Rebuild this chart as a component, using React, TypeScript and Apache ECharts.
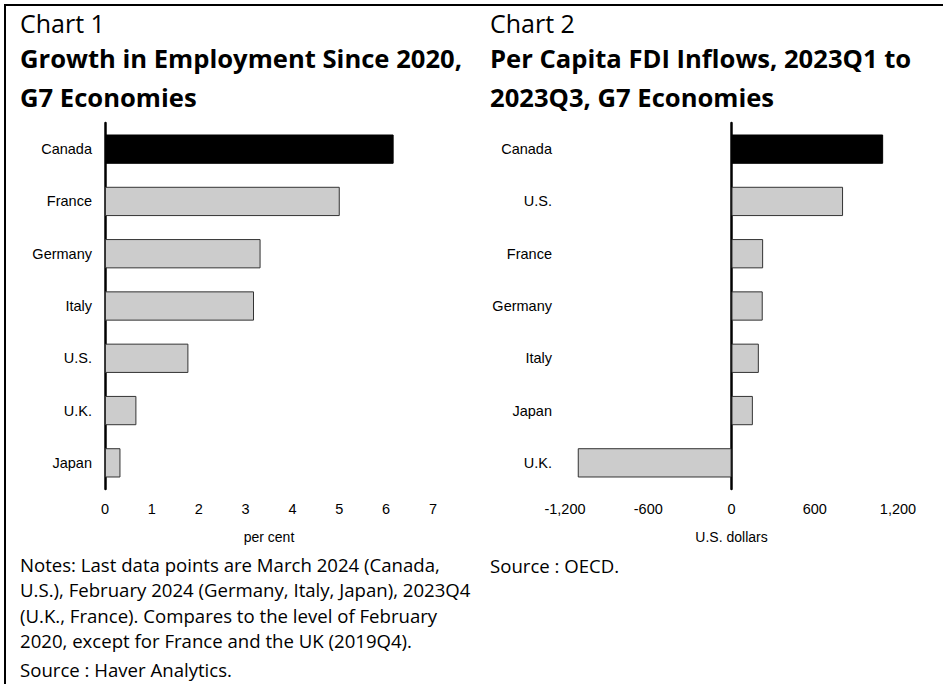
import React, { useEffect, useRef } from "react";
import * as echarts from "echarts";

const empCategories = ["Canada", "France", "Germany", "Italy", "U.S.", "U.K.", "Japan"];
const empValues = [6.16, 5.01, 3.32, 3.18, 1.78, 0.67, 0.33];

const fdiCategories = ["Canada", "U.S.", "France", "Germany", "Italy", "Japan", "U.K."];
const fdiValues = [1093, 804, 228, 225, 197, 154, -1108];

const chart1Label = "Chart 1";
const chart1Title = ["Growth in Employment Since 2020,", "G7 Economies"];
const chart2Label = "Chart 2";
const chart2Title = ["Per Capita FDI Inflows, 2023Q1 to", "2023Q3, G7 Economies"];
const notes1 = [
  "Notes: Last data points are March 2024 (Canada,",
  "U.S.), February 2024 (Germany, Italy, Japan), 2023Q4",
  "(U.K., France). Compares to the level of February",
  "2020, except for France and the UK (2019Q4).",
];
const source1 = "Source : Haver Analytics.";
const source2 = "Source : OECD.";

const HUMAN_FONT = "'Open Sans', 'Noto Sans', sans-serif";
const AXIS_FONT = "'Liberation Sans', Arial, sans-serif";

function barData(values: number[]) {
  return values.map((v, i) => ({
    value: v,
    itemStyle: {
      color: i === 0 ? "#000000" : "#cccccc",
      borderColor: i === 0 ? "#000000" : "#333333",
      borderWidth: 1,
    },
  }));
}

export default function App() {
  const ref = useRef<HTMLDivElement>(null);
  useEffect(() => {
    document.body.style.margin = "0";
    if (!ref.current) return;
    const chart = echarts.init(ref.current, null, { renderer: "svg" });
    const txt = (x: number, y: number, text: string, size: number, weight: string) => ({
      type: "text",
      x,
      y,
      style: {
        text,
        fill: "#000",
        fontFamily: HUMAN_FONT,
        fontSize: size,
        fontWeight: weight,
        verticalAlign: "middle",
        align: "left",
      },
    });
    const graphics: any[] = [
      { type: "line", shape: { x1: 4, y1: 5, x2: 943, y2: 5 }, style: { stroke: "#000", lineWidth: 2 } },
      { type: "line", shape: { x1: 5, y1: 4, x2: 5, y2: 684 }, style: { stroke: "#000", lineWidth: 2 } },
      txt(20, 23, chart1Label, 25, "normal"),
      txt(490, 23, chart2Label, 25, "normal"),
    ];
    chart1Title.forEach((t, i) => graphics.push(txt(20, 58 + i * 39.5, t, 25.6, "bold")));
    chart2Title.forEach((t, i) => graphics.push(txt(490, 58 + i * 39.5, t, 25.6, "bold")));
    notes1.forEach((t, i) => graphics.push(txt(20, 564 + i * 25.5, t, 18.6, "normal")));
    graphics.push(txt(20, 669, source1, 18.6, "normal"));
    graphics.push(txt(490, 565, source2, 18.6, "normal"));

    const axisLabel = { color: "#000", fontSize: 14.5, fontFamily: AXIS_FONT };
    const catAxis = (idx: number, cats: string[]) => ({
      type: "category",
      gridIndex: idx,
      data: cats,
      inverse: true,
      axisLine: { show: true, onZero: true, lineStyle: { color: "#000", width: 2.5 } },
      axisTick: { show: false },
      axisLabel: { ...axisLabel, margin: 13 },
    });
    const valAxis = (idx: number, min: number, max: number, interval: number, name: string) => ({
      type: "value",
      gridIndex: idx,
      min,
      max,
      interval,
      axisLine: { show: false },
      axisTick: { show: false },
      splitLine: { show: false },
      axisLabel: {
        ...axisLabel,
        margin: 12,
        formatter: (v: number) => v.toLocaleString("en-US"),
      },
      name,
      nameLocation: "middle",
      nameGap: 41,
      nameTextStyle: { color: "#000", fontSize: 14, fontFamily: AXIS_FONT },
    });

    chart.setOption({
      animation: false,
      grid: [
        { left: 105, right: 510, top: 123, bottom: 195 },
        { left: 565, right: 45, top: 123, bottom: 195 },
      ],
      xAxis: [valAxis(0, 0, 7, 1, "per cent"), valAxis(1, -1200, 1200, 600, "U.S. dollars")],
      yAxis: [catAxis(0, empCategories), catAxis(1, fdiCategories)],
      series: [
        { type: "bar", xAxisIndex: 0, yAxisIndex: 0, barWidth: "56%", data: barData(empValues) },
        { type: "bar", xAxisIndex: 1, yAxisIndex: 1, barWidth: "56%", data: barData(fdiValues) },
      ],
      graphic: graphics,
    });
    return () => chart.dispose();
  }, []);
  return <div ref={ref} style={{ position: "absolute", left: 0, top: 0, width: 943, height: 684, background: "#fff" }} />;
}
